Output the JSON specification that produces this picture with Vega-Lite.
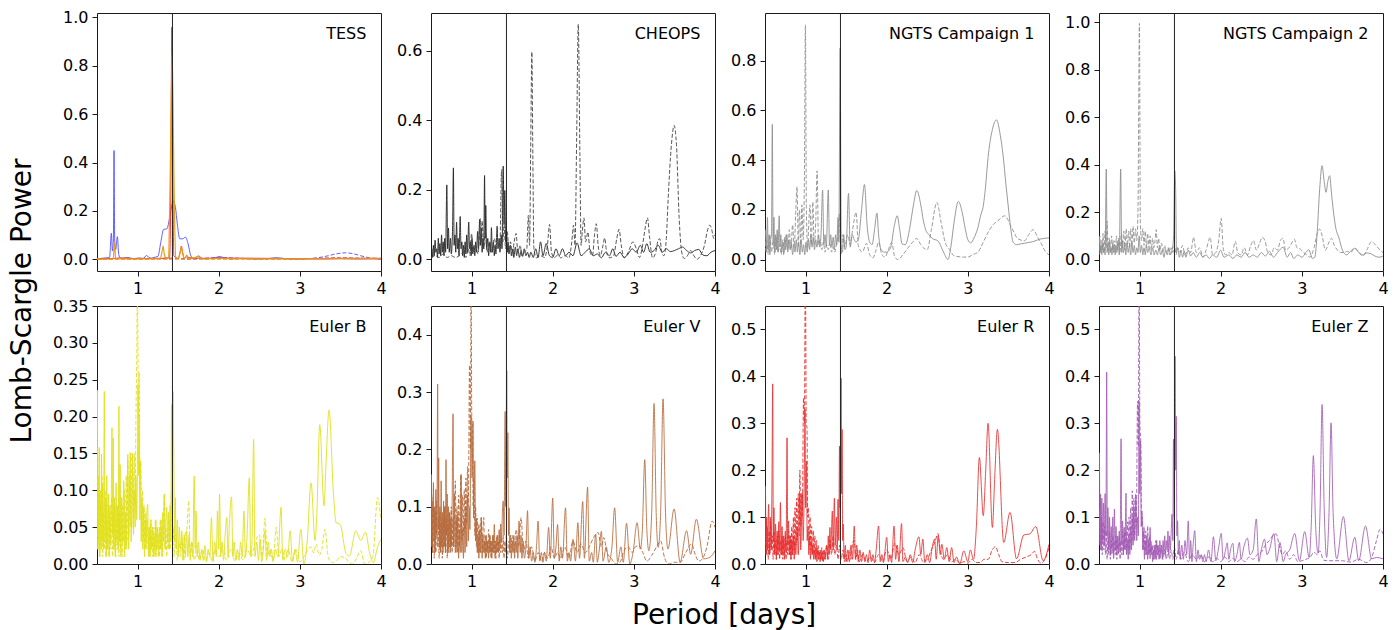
{
"$schema":"https://vega.github.io/schema/vega-lite/v6.json",
"padding":{"left":0,"top":8,"right":5,"bottom":0},
"config":{"font":"DejaVu Sans","view":{"stroke":"#1a1a1a","strokeWidth":1},"axis":{"grid":false,"domain":false,"ticks":true,"tickColor":"#1a1a1a","tickSize":5,"tickWidth":1,"labelFont":"DejaVu Sans","labelFontSize":16,"labelColor":"#000","labelPadding":4,"labelOverlap":false},"text":{"font":"DejaVu Sans","color":"#000"}},
"title":{"text":"Period [days]","orient":"bottom","anchor":"start","frame":"group","dx":632,"offset":12,"fontSize":28,"fontWeight":"normal","font":"DejaVu Sans","color":"#000"},
"datasets":{
"tA1":[{"x":0.5,"y":0.003},{"x":0.55,"y":0.004},{"x":0.6,"y":0.006},{"x":0.655,"y":0.008},{"x":0.677,"y":0.108},{"x":0.69,"y":0.035},{"x":0.702,"y":0.08},{"x":0.71,"y":0.45},{"x":0.718,"y":0.08},{"x":0.73,"y":0.04},{"x":0.751,"y":0.094},{"x":0.768,"y":0.02},{"x":0.785,"y":0.006},{"x":0.82,"y":0.004},{"x":0.88,"y":0.008},{"x":0.95,"y":0.003},{"x":1.02,"y":0.006},{"x":1.07,"y":0.004},{"x":1.11,"y":0.016},{"x":1.14,"y":0.008},{"x":1.17,"y":0.005},{"x":1.2,"y":0.008},{"x":1.25,"y":0.012},{"x":1.29,"y":0.078},{"x":1.32,"y":0.124},{"x":1.36,"y":0.126},{"x":1.4,"y":0.18},{"x":1.438,"y":0.242},{"x":1.467,"y":0.214},{"x":1.49,"y":0.146},{"x":1.52,"y":0.085},{"x":1.555,"y":0.085},{"x":1.59,"y":0.092},{"x":1.623,"y":0.064},{"x":1.656,"y":0.015},{"x":1.69,"y":0.002},{"x":1.75,"y":0.005},{"x":1.85,"y":0.003},{"x":1.95,"y":0.006},{"x":2.01,"y":0.012},{"x":2.07,"y":0.006},{"x":2.15,"y":0.002},{"x":2.3,"y":0.004},{"x":2.45,"y":0.002},{"x":2.6,"y":0.003},{"x":2.71,"y":0.007},{"x":2.8,"y":0.004},{"x":2.95,"y":0.002},{"x":3.1,"y":0.003},{"x":3.3,"y":0.002},{"x":3.5,"y":0.003},{"x":3.7,"y":0.002},{"x":3.9,"y":0.003},{"x":4.0,"y":0.002}],
"tA2":[{"x":0.5,"y":0.002},{"x":0.8,"y":0.004},{"x":1.0,"y":0.002},{"x":1.42,"y":0.005},{"x":1.6,"y":0.002},{"x":2.0,"y":0.007},{"x":2.5,"y":0.002},{"x":3.0,"y":0.002},{"x":3.2,"y":0.006},{"x":3.35,"y":0.015},{"x":3.45,"y":0.023},{"x":3.56,"y":0.027},{"x":3.65,"y":0.024},{"x":3.75,"y":0.015},{"x":3.85,"y":0.007},{"x":3.95,"y":0.003},{"x":4.0,"y":0.002}],
"tB1":[{"x":0.5,"y":0.002},{"x":0.7,"y":0.004},{"x":0.85,"y":0.006},{"x":0.9,"y":0.003},{"x":1.1,"y":0.004},{"x":1.3,"y":0.004},{"x":1.395,"y":0.008},{"x":1.41,"y":0.3},{"x":1.422,"y":0.96},{"x":1.434,"y":0.4},{"x":1.447,"y":0.015},{"x":1.5,"y":0.004},{"x":1.525,"y":0.03},{"x":1.54,"y":0.055},{"x":1.555,"y":0.03},{"x":1.575,"y":0.004},{"x":1.6,"y":0.01},{"x":1.7,"y":0.004},{"x":1.75,"y":0.014},{"x":1.8,"y":0.004},{"x":2.0,"y":0.006},{"x":2.35,"y":0.005},{"x":2.7,"y":0.004},{"x":3.0,"y":0.002},{"x":3.5,"y":0.003},{"x":4.0,"y":0.002}],
"tB2":[{"x":0.5,"y":0.001},{"x":1.0,"y":0.002},{"x":2.0,"y":0.002},{"x":3.0,"y":0.003},{"x":3.5,"y":0.007},{"x":3.8,"y":0.005},{"x":4.0,"y":0.004}],
"tC1":[{"x":0.5,"y":0.001},{"x":0.7,"y":0.002},{"x":0.716,"y":0.07},{"x":0.73,"y":0.003},{"x":1.0,"y":0.002},{"x":1.28,"y":0.003},{"x":1.3,"y":0.03},{"x":1.315,"y":0.055},{"x":1.33,"y":0.02},{"x":1.36,"y":0.003},{"x":1.38,"y":0.005},{"x":1.4,"y":0.3},{"x":1.426,"y":0.857},{"x":1.45,"y":0.3},{"x":1.47,"y":0.005},{"x":1.5,"y":0.004},{"x":1.525,"y":0.03},{"x":1.54,"y":0.05},{"x":1.555,"y":0.025},{"x":1.58,"y":0.004},{"x":1.607,"y":0.018},{"x":1.63,"y":0.003},{"x":1.75,"y":0.01},{"x":1.8,"y":0.002},{"x":2.0,"y":0.004},{"x":2.5,"y":0.002},{"x":3.0,"y":0.002},{"x":3.5,"y":0.004},{"x":4.0,"y":0.004}],
"tC2":[{"x":0.5,"y":0.002},{"x":1.5,"y":0.002},{"x":2.5,"y":0.003},{"x":3.5,"y":0.004},{"x":4.0,"y":0.005}],
"ch1":[{"x":0.5,"y":0.01},{"x":0.51,"y":0.03},{"x":0.52,"y":0.005},{"x":0.53,"y":0.04},{"x":0.54,"y":0.01},{"x":0.55,"y":0.055},{"x":0.56,"y":0.02},{"x":0.57,"y":0.03},{"x":0.58,"y":0.005},{"x":0.59,"y":0.06},{"x":0.6,"y":0.015},{"x":0.61,"y":0.045},{"x":0.62,"y":0.01},{"x":0.63,"y":0.07},{"x":0.64,"y":0.02},{"x":0.65,"y":0.05},{"x":0.66,"y":0.01},{"x":0.67,"y":0.06},{"x":0.68,"y":0.02},{"x":0.695,"y":0.214},{"x":0.705,"y":0.03},{"x":0.715,"y":0.09},{"x":0.725,"y":0.02},{"x":0.74,"y":0.06},{"x":0.75,"y":0.015},{"x":0.765,"y":0.08},{"x":0.776,"y":0.263},{"x":0.785,"y":0.04},{"x":0.795,"y":0.07},{"x":0.805,"y":0.02},{"x":0.815,"y":0.107},{"x":0.825,"y":0.03},{"x":0.835,"y":0.06},{"x":0.845,"y":0.01},{"x":0.86,"y":0.123},{"x":0.87,"y":0.03},{"x":0.88,"y":0.05},{"x":0.89,"y":0.01},{"x":0.9,"y":0.04},{"x":0.91,"y":0.005},{"x":0.92,"y":0.05},{"x":0.93,"y":0.015},{"x":0.94,"y":0.07},{"x":0.95,"y":0.02},{"x":0.965,"y":0.107},{"x":0.975,"y":0.03},{"x":0.985,"y":0.05},{"x":0.995,"y":0.01},{"x":1.005,"y":0.06},{"x":1.015,"y":0.015},{"x":1.03,"y":0.04},{"x":1.04,"y":0.01},{"x":1.05,"y":0.05},{"x":1.06,"y":0.02},{"x":1.075,"y":0.08},{"x":1.085,"y":0.03},{"x":1.1,"y":0.115},{"x":1.11,"y":0.04},{"x":1.12,"y":0.09},{"x":1.13,"y":0.02},{"x":1.14,"y":0.06},{"x":1.15,"y":0.03},{"x":1.16,"y":0.241},{"x":1.168,"y":0.06},{"x":1.175,"y":0.155},{"x":1.185,"y":0.03},{"x":1.2,"y":0.06},{"x":1.21,"y":0.01},{"x":1.225,"y":0.05},{"x":1.235,"y":0.02},{"x":1.245,"y":0.091},{"x":1.255,"y":0.02},{"x":1.27,"y":0.05},{"x":1.28,"y":0.01},{"x":1.29,"y":0.04},{"x":1.3,"y":0.015},{"x":1.315,"y":0.095},{"x":1.325,"y":0.03},{"x":1.34,"y":0.06},{"x":1.35,"y":0.02},{"x":1.365,"y":0.07},{"x":1.375,"y":0.03},{"x":1.39,"y":0.268},{"x":1.4,"y":0.1},{"x":1.41,"y":0.198},{"x":1.42,"y":0.05},{"x":1.43,"y":0.08},{"x":1.44,"y":0.02},{"x":1.45,"y":0.05},{"x":1.46,"y":0.015},{"x":1.48,"y":0.04},{"x":1.49,"y":0.01},{"x":1.51,"y":0.03},{"x":1.52,"y":0.005},{"x":1.54,"y":0.035},{"x":1.555,"y":0.01},{"x":1.57,"y":0.03},{"x":1.59,"y":0.005},{"x":1.61,"y":0.025},{"x":1.63,"y":0.008},{"x":1.65,"y":0.03},{"x":1.67,"y":0.01},{"x":1.69,"y":0.02},{"x":1.71,"y":0.005},{"x":1.73,"y":0.02},{"x":1.76,"y":0.005},{"x":1.79,"y":0.03},{"x":1.82,"y":0.005},{"x":1.85,"y":0.05},{"x":1.88,"y":0.01},{"x":1.92,"y":0.045},{"x":1.96,"y":0.01},{"x":2.0,"y":0.005},{"x":2.04,"y":0.03},{"x":2.08,"y":0.01},{"x":2.12,"y":0.03},{"x":2.16,"y":0.01},{"x":2.2,"y":0.02},{"x":2.25,"y":0.01},{"x":2.3,"y":0.047},{"x":2.35,"y":0.01},{"x":2.4,"y":0.02},{"x":2.45,"y":0.03},{"x":2.5,"y":0.01},{"x":2.55,"y":0.015},{"x":2.6,"y":0.004},{"x":2.65,"y":0.02},{"x":2.7,"y":0.01},{"x":2.74,"y":0.03},{"x":2.78,"y":0.008},{"x":2.83,"y":0.02},{"x":2.88,"y":0.005},{"x":2.93,"y":0.015},{"x":2.98,"y":0.03},{"x":3.03,"y":0.02},{"x":3.08,"y":0.04},{"x":3.12,"y":0.02},{"x":3.16,"y":0.045},{"x":3.2,"y":0.02},{"x":3.25,"y":0.025},{"x":3.3,"y":0.04},{"x":3.35,"y":0.02},{"x":3.4,"y":0.03},{"x":3.45,"y":0.022},{"x":3.55,"y":0.03},{"x":3.6,"y":0.035},{"x":3.65,"y":0.025},{"x":3.7,"y":0.018},{"x":3.75,"y":0.025},{"x":3.8,"y":0.028},{"x":3.85,"y":0.012},{"x":3.9,"y":0.01},{"x":3.95,"y":0.02},{"x":4.0,"y":0.025}],
"ch2":[{"x":0.5,"y":0.005},{"x":0.55,"y":0.01},{"x":0.6,"y":0.005},{"x":0.65,"y":0.015},{"x":0.7,"y":0.005},{"x":0.75,"y":0.01},{"x":0.8,"y":0.005},{"x":0.85,"y":0.01},{"x":0.9,"y":0.02},{"x":0.93,"y":0.005},{"x":0.96,"y":0.03},{"x":0.98,"y":0.01},{"x":1.0,"y":0.074},{"x":1.02,"y":0.02},{"x":1.05,"y":0.04},{"x":1.08,"y":0.015},{"x":1.11,"y":0.117},{"x":1.12,"y":0.05},{"x":1.13,"y":0.11},{"x":1.15,"y":0.03},{"x":1.17,"y":0.08},{"x":1.19,"y":0.02},{"x":1.22,"y":0.05},{"x":1.25,"y":0.02},{"x":1.28,"y":0.06},{"x":1.31,"y":0.03},{"x":1.35,"y":0.05},{"x":1.37,"y":0.258},{"x":1.385,"y":0.05},{"x":1.4,"y":0.1},{"x":1.42,"y":0.03},{"x":1.44,"y":0.08},{"x":1.46,"y":0.02},{"x":1.48,"y":0.05},{"x":1.5,"y":0.01},{"x":1.525,"y":0.05},{"x":1.549,"y":0.074},{"x":1.57,"y":0.02},{"x":1.6,"y":0.04},{"x":1.62,"y":0.01},{"x":1.65,"y":0.02},{"x":1.68,"y":0.03},{"x":1.7,"y":0.126},{"x":1.715,"y":0.04},{"x":1.73,"y":0.35},{"x":1.743,"y":0.597},{"x":1.755,"y":0.3},{"x":1.768,"y":0.03},{"x":1.8,"y":0.004},{"x":1.85,"y":0.01},{"x":1.9,"y":0.005},{"x":1.935,"y":0.04},{"x":1.961,"y":0.1},{"x":1.985,"y":0.02},{"x":2.02,"y":0.004},{"x":2.06,"y":0.012},{"x":2.1,"y":0.004},{"x":2.15,"y":0.01},{"x":2.2,"y":0.004},{"x":2.235,"y":0.05},{"x":2.257,"y":0.098},{"x":2.275,"y":0.04},{"x":2.295,"y":0.35},{"x":2.315,"y":0.677},{"x":2.335,"y":0.3},{"x":2.35,"y":0.04},{"x":2.365,"y":0.08},{"x":2.385,"y":0.119},{"x":2.405,"y":0.05},{"x":2.434,"y":0.078},{"x":2.46,"y":0.02},{"x":2.49,"y":0.01},{"x":2.515,"y":0.07},{"x":2.537,"y":0.102},{"x":2.56,"y":0.04},{"x":2.585,"y":0.01},{"x":2.62,"y":0.04},{"x":2.64,"y":0.061},{"x":2.665,"y":0.02},{"x":2.7,"y":0.004},{"x":2.75,"y":0.01},{"x":2.79,"y":0.06},{"x":2.817,"y":0.086},{"x":2.845,"y":0.04},{"x":2.88,"y":0.004},{"x":2.93,"y":0.02},{"x":2.99,"y":0.05},{"x":3.03,"y":0.03},{"x":3.07,"y":0.005},{"x":3.1,"y":0.03},{"x":3.14,"y":0.09},{"x":3.167,"y":0.119},{"x":3.195,"y":0.06},{"x":3.23,"y":0.004},{"x":3.27,"y":0.02},{"x":3.3,"y":0.055},{"x":3.319,"y":0.059},{"x":3.345,"y":0.02},{"x":3.37,"y":0.01},{"x":3.4,"y":0.06},{"x":3.42,"y":0.16},{"x":3.463,"y":0.33},{"x":3.496,"y":0.385},{"x":3.525,"y":0.33},{"x":3.558,"y":0.12},{"x":3.59,"y":0.02},{"x":3.62,"y":0.002},{"x":3.66,"y":0.01},{"x":3.7,"y":0.025},{"x":3.74,"y":0.01},{"x":3.78,"y":0.0},{"x":3.82,"y":0.01},{"x":3.87,"y":0.04},{"x":3.91,"y":0.085},{"x":3.936,"y":0.098},{"x":3.96,"y":0.085},{"x":3.985,"y":0.06},{"x":4.0,"y":0.07}],
"n11":[{"x":0.5,"y":0.05},{"x":0.51,"y":0.12},{"x":0.52,"y":0.03},{"x":0.53,"y":0.17},{"x":0.54,"y":0.04},{"x":0.55,"y":0.1},{"x":0.56,"y":0.02},{"x":0.57,"y":0.08},{"x":0.58,"y":0.1},{"x":0.59,"y":0.544},{"x":0.6,"y":0.06},{"x":0.61,"y":0.17},{"x":0.62,"y":0.03},{"x":0.63,"y":0.1},{"x":0.64,"y":0.04},{"x":0.65,"y":0.12},{"x":0.66,"y":0.03},{"x":0.675,"y":0.176},{"x":0.685,"y":0.05},{"x":0.695,"y":0.1},{"x":0.705,"y":0.03},{"x":0.72,"y":0.07},{"x":0.73,"y":0.02},{"x":0.745,"y":0.09},{"x":0.755,"y":0.04},{"x":0.77,"y":0.1},{"x":0.78,"y":0.03},{"x":0.795,"y":0.08},{"x":0.81,"y":0.04},{"x":0.825,"y":0.07},{"x":0.84,"y":0.02},{"x":0.855,"y":0.06},{"x":0.87,"y":0.03},{"x":0.885,"y":0.08},{"x":0.9,"y":0.03},{"x":0.915,"y":0.07},{"x":0.93,"y":0.02},{"x":0.945,"y":0.08},{"x":0.96,"y":0.03},{"x":0.975,"y":0.06},{"x":0.99,"y":0.02},{"x":1.005,"y":0.07},{"x":1.02,"y":0.03},{"x":1.035,"y":0.08},{"x":1.05,"y":0.04},{"x":1.065,"y":0.1},{"x":1.08,"y":0.05},{"x":1.095,"y":0.09},{"x":1.11,"y":0.04},{"x":1.125,"y":0.08},{"x":1.14,"y":0.05},{"x":1.16,"y":0.1},{"x":1.175,"y":0.05},{"x":1.19,"y":0.1},{"x":1.21,"y":0.28},{"x":1.225,"y":0.06},{"x":1.24,"y":0.1},{"x":1.255,"y":0.05},{"x":1.28,"y":0.28},{"x":1.295,"y":0.06},{"x":1.31,"y":0.1},{"x":1.325,"y":0.05},{"x":1.34,"y":0.09},{"x":1.355,"y":0.04},{"x":1.37,"y":0.1},{"x":1.385,"y":0.06},{"x":1.4,"y":0.17},{"x":1.41,"y":0.07},{"x":1.426,"y":0.851},{"x":1.44,"y":0.05},{"x":1.455,"y":0.03},{"x":1.47,"y":0.1},{"x":1.485,"y":0.04},{"x":1.5,"y":0.05},{"x":1.529,"y":0.266},{"x":1.55,"y":0.05},{"x":1.575,"y":0.1},{"x":1.6,"y":0.08},{"x":1.62,"y":0.07},{"x":1.65,"y":0.08},{"x":1.69,"y":0.2},{"x":1.726,"y":0.302},{"x":1.76,"y":0.13},{"x":1.79,"y":0.07},{"x":1.82,"y":0.06},{"x":1.85,"y":0.12},{"x":1.879,"y":0.187},{"x":1.9,"y":0.1},{"x":1.93,"y":0.04},{"x":1.97,"y":0.03},{"x":2.0,"y":0.03},{"x":2.05,"y":0.05},{"x":2.09,"y":0.13},{"x":2.13,"y":0.176},{"x":2.16,"y":0.12},{"x":2.19,"y":0.063},{"x":2.23,"y":0.06},{"x":2.28,"y":0.12},{"x":2.33,"y":0.22},{"x":2.37,"y":0.278},{"x":2.42,"y":0.22},{"x":2.45,"y":0.16},{"x":2.48,"y":0.12},{"x":2.52,"y":0.1},{"x":2.56,"y":0.085},{"x":2.632,"y":0.075},{"x":2.7,"y":0.03},{"x":2.755,"y":0.0},{"x":2.79,"y":0.05},{"x":2.83,"y":0.15},{"x":2.883,"y":0.234},{"x":2.93,"y":0.19},{"x":2.97,"y":0.12},{"x":3.0,"y":0.08},{"x":3.035,"y":0.067},{"x":3.08,"y":0.09},{"x":3.125,"y":0.13},{"x":3.16,"y":0.18},{"x":3.187,"y":0.21},{"x":3.22,"y":0.3},{"x":3.249,"y":0.41},{"x":3.3,"y":0.52},{"x":3.352,"y":0.562},{"x":3.4,"y":0.5},{"x":3.434,"y":0.42},{"x":3.47,"y":0.3},{"x":3.496,"y":0.22},{"x":3.53,"y":0.12},{"x":3.558,"y":0.07},{"x":3.6,"y":0.06},{"x":3.65,"y":0.063},{"x":3.7,"y":0.066},{"x":3.8,"y":0.072},{"x":3.9,"y":0.083},{"x":4.0,"y":0.087}],
"n12":[{"x":0.5,"y":0.03},{"x":0.52,"y":0.08},{"x":0.54,"y":0.02},{"x":0.56,"y":0.1},{"x":0.58,"y":0.03},{"x":0.6,"y":0.07},{"x":0.62,"y":0.02},{"x":0.64,"y":0.09},{"x":0.66,"y":0.03},{"x":0.68,"y":0.06},{"x":0.7,"y":0.02},{"x":0.72,"y":0.08},{"x":0.74,"y":0.03},{"x":0.76,"y":0.1},{"x":0.78,"y":0.04},{"x":0.8,"y":0.12},{"x":0.82,"y":0.04},{"x":0.84,"y":0.14},{"x":0.86,"y":0.05},{"x":0.88,"y":0.2},{"x":0.895,"y":0.293},{"x":0.91,"y":0.05},{"x":0.925,"y":0.2},{"x":0.94,"y":0.06},{"x":0.955,"y":0.22},{"x":0.97,"y":0.08},{"x":0.985,"y":0.3},{"x":0.998,"y":0.945},{"x":1.01,"y":0.2},{"x":1.025,"y":0.05},{"x":1.04,"y":0.15},{"x":1.055,"y":0.22},{"x":1.07,"y":0.06},{"x":1.09,"y":0.232},{"x":1.105,"y":0.06},{"x":1.125,"y":0.15},{"x":1.142,"y":0.357},{"x":1.16,"y":0.06},{"x":1.18,"y":0.08},{"x":1.2,"y":0.04},{"x":1.22,"y":0.07},{"x":1.24,"y":0.03},{"x":1.26,"y":0.06},{"x":1.28,"y":0.04},{"x":1.3,"y":0.07},{"x":1.32,"y":0.03},{"x":1.34,"y":0.05},{"x":1.36,"y":0.03},{"x":1.38,"y":0.06},{"x":1.4,"y":0.1},{"x":1.415,"y":0.183},{"x":1.43,"y":0.07},{"x":1.44,"y":0.023},{"x":1.46,"y":0.1},{"x":1.48,"y":0.05},{"x":1.52,"y":0.1},{"x":1.55,"y":0.06},{"x":1.58,"y":0.12},{"x":1.623,"y":0.19},{"x":1.65,"y":0.056},{"x":1.7,"y":0.03},{"x":1.75,"y":0.065},{"x":1.79,"y":0.02},{"x":1.83,"y":0.007},{"x":1.87,"y":0.04},{"x":1.9,"y":0.07},{"x":1.94,"y":0.02},{"x":1.98,"y":0.01},{"x":2.02,"y":0.04},{"x":2.06,"y":0.068},{"x":2.1,"y":0.01},{"x":2.14,"y":0.0},{"x":2.2,"y":0.02},{"x":2.27,"y":0.05},{"x":2.32,"y":0.07},{"x":2.37,"y":0.085},{"x":2.42,"y":0.06},{"x":2.46,"y":0.045},{"x":2.5,"y":0.04},{"x":2.55,"y":0.12},{"x":2.619,"y":0.23},{"x":2.67,"y":0.15},{"x":2.72,"y":0.07},{"x":2.776,"y":0.04},{"x":2.83,"y":0.015},{"x":2.88,"y":0.012},{"x":2.95,"y":0.01},{"x":3.0,"y":0.01},{"x":3.06,"y":0.02},{"x":3.125,"y":0.03},{"x":3.19,"y":0.07},{"x":3.25,"y":0.11},{"x":3.31,"y":0.14},{"x":3.37,"y":0.156},{"x":3.455,"y":0.176},{"x":3.537,"y":0.13},{"x":3.62,"y":0.083},{"x":3.7,"y":0.076},{"x":3.75,"y":0.1},{"x":3.805,"y":0.12},{"x":3.86,"y":0.09},{"x":3.907,"y":0.063},{"x":3.95,"y":0.035},{"x":4.0,"y":0.019}],
"n21":[{"x":0.5,"y":0.02},{"x":0.505,"y":0.094},{"x":0.515,"y":0.03},{"x":0.525,"y":0.06},{"x":0.535,"y":0.02},{"x":0.545,"y":0.07},{"x":0.555,"y":0.03},{"x":0.565,"y":0.05},{"x":0.575,"y":0.02},{"x":0.59,"y":0.382},{"x":0.6,"y":0.03},{"x":0.61,"y":0.06},{"x":0.62,"y":0.02},{"x":0.63,"y":0.08},{"x":0.64,"y":0.03},{"x":0.65,"y":0.05},{"x":0.66,"y":0.02},{"x":0.67,"y":0.07},{"x":0.68,"y":0.03},{"x":0.69,"y":0.05},{"x":0.7,"y":0.02},{"x":0.71,"y":0.06},{"x":0.72,"y":0.03},{"x":0.735,"y":0.08},{"x":0.75,"y":0.02},{"x":0.767,"y":0.382},{"x":0.78,"y":0.03},{"x":0.79,"y":0.08},{"x":0.8,"y":0.03},{"x":0.815,"y":0.06},{"x":0.83,"y":0.02},{"x":0.845,"y":0.07},{"x":0.86,"y":0.03},{"x":0.875,"y":0.06},{"x":0.89,"y":0.02},{"x":0.905,"y":0.07},{"x":0.92,"y":0.03},{"x":0.935,"y":0.06},{"x":0.95,"y":0.02},{"x":0.965,"y":0.05},{"x":0.98,"y":0.03},{"x":0.995,"y":0.1},{"x":1.01,"y":0.03},{"x":1.025,"y":0.06},{"x":1.04,"y":0.02},{"x":1.055,"y":0.05},{"x":1.07,"y":0.02},{"x":1.085,"y":0.06},{"x":1.1,"y":0.03},{"x":1.12,"y":0.05},{"x":1.14,"y":0.02},{"x":1.16,"y":0.05},{"x":1.18,"y":0.02},{"x":1.2,"y":0.04},{"x":1.22,"y":0.02},{"x":1.24,"y":0.05},{"x":1.26,"y":0.02},{"x":1.28,"y":0.04},{"x":1.3,"y":0.01},{"x":1.32,"y":0.04},{"x":1.34,"y":0.02},{"x":1.36,"y":0.05},{"x":1.38,"y":0.02},{"x":1.4,"y":0.04},{"x":1.42,"y":0.1},{"x":1.434,"y":0.375},{"x":1.445,"y":0.29},{"x":1.455,"y":0.03},{"x":1.47,"y":0.05},{"x":1.49,"y":0.01},{"x":1.51,"y":0.04},{"x":1.53,"y":0.01},{"x":1.55,"y":0.035},{"x":1.57,"y":0.01},{"x":1.6,"y":0.04},{"x":1.63,"y":0.015},{"x":1.66,"y":0.03},{"x":1.7,"y":0.01},{"x":1.74,"y":0.03},{"x":1.78,"y":0.01},{"x":1.82,"y":0.02},{"x":1.86,"y":0.005},{"x":1.9,"y":0.02},{"x":1.95,"y":0.01},{"x":2.0,"y":0.04},{"x":2.04,"y":0.01},{"x":2.1,"y":0.02},{"x":2.15,"y":0.005},{"x":2.2,"y":0.02},{"x":2.25,"y":0.01},{"x":2.3,"y":0.03},{"x":2.35,"y":0.01},{"x":2.4,"y":0.02},{"x":2.45,"y":0.01},{"x":2.5,"y":0.03},{"x":2.55,"y":0.015},{"x":2.6,"y":0.035},{"x":2.65,"y":0.01},{"x":2.7,"y":0.03},{"x":2.77,"y":0.052},{"x":2.82,"y":0.01},{"x":2.86,"y":0.03},{"x":2.9,"y":0.005},{"x":2.95,"y":0.02},{"x":3.0,"y":0.01},{"x":3.05,"y":0.03},{"x":3.085,"y":0.042},{"x":3.13,"y":0.005},{"x":3.16,"y":0.01},{"x":3.19,"y":0.12},{"x":3.22,"y":0.3},{"x":3.249,"y":0.396},{"x":3.275,"y":0.33},{"x":3.298,"y":0.284},{"x":3.32,"y":0.33},{"x":3.343,"y":0.354},{"x":3.365,"y":0.28},{"x":3.39,"y":0.2},{"x":3.42,"y":0.13},{"x":3.455,"y":0.094},{"x":3.5,"y":0.04},{"x":3.55,"y":0.02},{"x":3.6,"y":0.035},{"x":3.65,"y":0.048},{"x":3.7,"y":0.03},{"x":3.75,"y":0.02},{"x":3.8,"y":0.028},{"x":3.85,"y":0.025},{"x":3.9,"y":0.015},{"x":3.95,"y":0.01},{"x":4.0,"y":0.015}],
"n22":[{"x":0.5,"y":0.04},{"x":0.51,"y":0.1},{"x":0.52,"y":0.03},{"x":0.53,"y":0.08},{"x":0.54,"y":0.04},{"x":0.55,"y":0.11},{"x":0.56,"y":0.03},{"x":0.575,"y":0.12},{"x":0.59,"y":0.05},{"x":0.6,"y":0.162},{"x":0.61,"y":0.04},{"x":0.625,"y":0.09},{"x":0.64,"y":0.03},{"x":0.655,"y":0.1},{"x":0.67,"y":0.04},{"x":0.685,"y":0.08},{"x":0.7,"y":0.03},{"x":0.715,"y":0.1},{"x":0.73,"y":0.04},{"x":0.745,"y":0.09},{"x":0.76,"y":0.03},{"x":0.775,"y":0.11},{"x":0.79,"y":0.05},{"x":0.805,"y":0.12},{"x":0.82,"y":0.04},{"x":0.835,"y":0.13},{"x":0.85,"y":0.06},{"x":0.865,"y":0.12},{"x":0.88,"y":0.05},{"x":0.89,"y":0.13},{"x":0.905,"y":0.06},{"x":0.92,"y":0.14},{"x":0.935,"y":0.07},{"x":0.95,"y":0.13},{"x":0.965,"y":0.08},{"x":0.98,"y":0.2},{"x":0.998,"y":0.996},{"x":1.01,"y":0.15},{"x":1.025,"y":0.08},{"x":1.04,"y":0.13},{"x":1.055,"y":0.06},{"x":1.07,"y":0.12},{"x":1.085,"y":0.05},{"x":1.1,"y":0.11},{"x":1.115,"y":0.05},{"x":1.13,"y":0.1},{"x":1.145,"y":0.04},{"x":1.16,"y":0.09},{"x":1.175,"y":0.05},{"x":1.19,"y":0.08},{"x":1.205,"y":0.126},{"x":1.22,"y":0.05},{"x":1.235,"y":0.09},{"x":1.25,"y":0.04},{"x":1.27,"y":0.07},{"x":1.29,"y":0.03},{"x":1.31,"y":0.06},{"x":1.33,"y":0.03},{"x":1.35,"y":0.05},{"x":1.37,"y":0.02},{"x":1.39,"y":0.05},{"x":1.41,"y":0.03},{"x":1.43,"y":0.06},{"x":1.45,"y":0.02},{"x":1.47,"y":0.05},{"x":1.5,"y":0.03},{"x":1.53,"y":0.06},{"x":1.56,"y":0.02},{"x":1.6,"y":0.05},{"x":1.63,"y":0.03},{"x":1.665,"y":0.094},{"x":1.7,"y":0.03},{"x":1.74,"y":0.05},{"x":1.78,"y":0.01},{"x":1.82,"y":0.04},{"x":1.87,"y":0.094},{"x":1.9,"y":0.02},{"x":1.94,"y":0.03},{"x":1.975,"y":0.08},{"x":2.006,"y":0.174},{"x":2.03,"y":0.05},{"x":2.06,"y":0.02},{"x":2.1,"y":0.03},{"x":2.14,"y":0.02},{"x":2.179,"y":0.077},{"x":2.21,"y":0.03},{"x":2.25,"y":0.02},{"x":2.29,"y":0.05},{"x":2.33,"y":0.02},{"x":2.37,"y":0.06},{"x":2.405,"y":0.08},{"x":2.44,"y":0.04},{"x":2.48,"y":0.07},{"x":2.512,"y":0.094},{"x":2.545,"y":0.08},{"x":2.58,"y":0.03},{"x":2.62,"y":0.02},{"x":2.66,"y":0.05},{"x":2.7,"y":0.04},{"x":2.735,"y":0.08},{"x":2.767,"y":0.09},{"x":2.8,"y":0.04},{"x":2.84,"y":0.05},{"x":2.875,"y":0.07},{"x":2.907,"y":0.086},{"x":2.94,"y":0.05},{"x":2.98,"y":0.045},{"x":3.02,"y":0.03},{"x":3.06,"y":0.02},{"x":3.1,"y":0.01},{"x":3.15,"y":0.05},{"x":3.19,"y":0.11},{"x":3.22,"y":0.129},{"x":3.25,"y":0.1},{"x":3.29,"y":0.04},{"x":3.33,"y":0.07},{"x":3.364,"y":0.09},{"x":3.4,"y":0.06},{"x":3.44,"y":0.04},{"x":3.48,"y":0.03},{"x":3.52,"y":0.03},{"x":3.56,"y":0.035},{"x":3.6,"y":0.03},{"x":3.65,"y":0.048},{"x":3.7,"y":0.035},{"x":3.75,"y":0.015},{"x":3.8,"y":0.04},{"x":3.858,"y":0.076},{"x":3.9,"y":0.065},{"x":3.95,"y":0.045},{"x":4.0,"y":0.03}],
"eb1":[{"x":0.5,"y":0.05},{"x":0.505,"y":0.236},{"x":0.51,"y":0.02},{"x":0.515,"y":0.12},{"x":0.52,"y":0.03},{"x":0.527,"y":0.158},{"x":0.535,"y":0.01},{"x":0.54,"y":0.1},{"x":0.55,"y":0.02},{"x":0.555,"y":0.149},{"x":0.565,"y":0.03},{"x":0.57,"y":0.11},{"x":0.58,"y":0.02},{"x":0.59,"y":0.234},{"x":0.598,"y":0.03},{"x":0.605,"y":0.09},{"x":0.615,"y":0.01},{"x":0.62,"y":0.12},{"x":0.63,"y":0.02},{"x":0.64,"y":0.095},{"x":0.65,"y":0.01},{"x":0.66,"y":0.08},{"x":0.67,"y":0.03},{"x":0.685,"y":0.185},{"x":0.692,"y":0.04},{"x":0.7,"y":0.171},{"x":0.708,"y":0.02},{"x":0.715,"y":0.09},{"x":0.725,"y":0.01},{"x":0.735,"y":0.11},{"x":0.745,"y":0.03},{"x":0.755,"y":0.08},{"x":0.762,"y":0.02},{"x":0.77,"y":0.214},{"x":0.778,"y":0.03},{"x":0.785,"y":0.135},{"x":0.795,"y":0.01},{"x":0.805,"y":0.09},{"x":0.815,"y":0.03},{"x":0.83,"y":0.113},{"x":0.84,"y":0.01},{"x":0.85,"y":0.07},{"x":0.86,"y":0.02},{"x":0.87,"y":0.08},{"x":0.88,"y":0.149},{"x":0.89,"y":0.02},{"x":0.9,"y":0.09},{"x":0.91,"y":0.151},{"x":0.92,"y":0.03},{"x":0.93,"y":0.08},{"x":0.94,"y":0.15},{"x":0.95,"y":0.04},{"x":0.96,"y":0.1},{"x":0.97,"y":0.05},{"x":0.98,"y":0.12},{"x":0.99,"y":0.06},{"x":1.0,"y":0.16},{"x":1.006,"y":0.243},{"x":1.012,"y":0.12},{"x":1.02,"y":0.203},{"x":1.028,"y":0.06},{"x":1.035,"y":0.14},{"x":1.045,"y":0.03},{"x":1.055,"y":0.09},{"x":1.065,"y":0.02},{"x":1.075,"y":0.077},{"x":1.085,"y":0.01},{"x":1.095,"y":0.06},{"x":1.105,"y":0.02},{"x":1.115,"y":0.07},{"x":1.125,"y":0.081},{"x":1.135,"y":0.01},{"x":1.145,"y":0.05},{"x":1.155,"y":0.01},{"x":1.165,"y":0.06},{"x":1.175,"y":0.02},{"x":1.185,"y":0.05},{"x":1.195,"y":0.01},{"x":1.205,"y":0.04},{"x":1.215,"y":0.01},{"x":1.225,"y":0.06},{"x":1.235,"y":0.02},{"x":1.245,"y":0.05},{"x":1.26,"y":0.01},{"x":1.27,"y":0.05},{"x":1.28,"y":0.02},{"x":1.29,"y":0.06},{"x":1.3,"y":0.01},{"x":1.31,"y":0.07},{"x":1.32,"y":0.03},{"x":1.33,"y":0.095},{"x":1.34,"y":0.02},{"x":1.35,"y":0.06},{"x":1.36,"y":0.077},{"x":1.37,"y":0.03},{"x":1.38,"y":0.07},{"x":1.39,"y":0.02},{"x":1.4,"y":0.08},{"x":1.41,"y":0.03},{"x":1.418,"y":0.216},{"x":1.428,"y":0.1},{"x":1.438,"y":0.234},{"x":1.447,"y":0.133},{"x":1.455,"y":0.03},{"x":1.465,"y":0.09},{"x":1.475,"y":0.02},{"x":1.49,"y":0.06},{"x":1.5,"y":0.01},{"x":1.515,"y":0.05},{"x":1.53,"y":0.02},{"x":1.545,"y":0.045},{"x":1.56,"y":0.005},{"x":1.575,"y":0.04},{"x":1.59,"y":0.01},{"x":1.605,"y":0.045},{"x":1.62,"y":0.01},{"x":1.635,"y":0.04},{"x":1.65,"y":0.005},{"x":1.665,"y":0.03},{"x":1.68,"y":0.01},{"x":1.698,"y":0.119},{"x":1.71,"y":0.02},{"x":1.72,"y":0.072},{"x":1.735,"y":0.01},{"x":1.75,"y":0.03},{"x":1.77,"y":0.005},{"x":1.79,"y":0.02},{"x":1.81,"y":0.005},{"x":1.83,"y":0.025},{"x":1.85,"y":0.003},{"x":1.87,"y":0.02},{"x":1.89,"y":0.01},{"x":1.91,"y":0.063},{"x":1.93,"y":0.003},{"x":1.95,"y":0.03},{"x":1.97,"y":0.01},{"x":1.985,"y":0.072},{"x":2.0,"y":0.02},{"x":2.01,"y":0.095},{"x":2.025,"y":0.01},{"x":2.04,"y":0.03},{"x":2.06,"y":0.005},{"x":2.08,"y":0.04},{"x":2.1,"y":0.063},{"x":2.115,"y":0.01},{"x":2.13,"y":0.05},{"x":2.158,"y":0.091},{"x":2.175,"y":0.01},{"x":2.19,"y":0.03},{"x":2.21,"y":0.005},{"x":2.23,"y":0.02},{"x":2.25,"y":0.005},{"x":2.27,"y":0.03},{"x":2.29,"y":0.01},{"x":2.31,"y":0.072},{"x":2.33,"y":0.01},{"x":2.35,"y":0.04},{"x":2.377,"y":0.117},{"x":2.395,"y":0.01},{"x":2.41,"y":0.03},{"x":2.43,"y":0.169},{"x":2.447,"y":0.01},{"x":2.47,"y":0.03},{"x":2.49,"y":0.005},{"x":2.51,"y":0.034},{"x":2.53,"y":0.003},{"x":2.55,"y":0.02},{"x":2.57,"y":0.045},{"x":2.59,"y":0.005},{"x":2.61,"y":0.03},{"x":2.63,"y":0.01},{"x":2.65,"y":0.02},{"x":2.67,"y":0.003},{"x":2.7,"y":0.02},{"x":2.73,"y":0.01},{"x":2.768,"y":0.077},{"x":2.79,"y":0.005},{"x":2.82,"y":0.02},{"x":2.85,"y":0.01},{"x":2.88,"y":0.045},{"x":2.91,"y":0.003},{"x":2.94,"y":0.02},{"x":2.97,"y":0.003},{"x":3.012,"y":0.047},{"x":3.05,"y":0.0},{"x":3.09,"y":0.03},{"x":3.138,"y":0.11},{"x":3.187,"y":0.032},{"x":3.21,"y":0.07},{"x":3.245,"y":0.189},{"x":3.298,"y":0.079},{"x":3.32,"y":0.13},{"x":3.36,"y":0.209},{"x":3.414,"y":0.095},{"x":3.447,"y":0.056},{"x":3.496,"y":0.054},{"x":3.57,"y":0.014},{"x":3.611,"y":0.011},{"x":3.69,"y":0.045},{"x":3.751,"y":0.032},{"x":3.809,"y":0.043},{"x":3.86,"y":0.015},{"x":3.907,"y":0.002},{"x":3.957,"y":0.023},{"x":4.0,"y":0.034}],
"eb2":[{"x":0.5,"y":0.03},{"x":0.505,"y":0.158},{"x":0.512,"y":0.02},{"x":0.52,"y":0.1},{"x":0.53,"y":0.01},{"x":0.54,"y":0.08},{"x":0.55,"y":0.02},{"x":0.56,"y":0.12},{"x":0.57,"y":0.01},{"x":0.58,"y":0.07},{"x":0.59,"y":0.02},{"x":0.6,"y":0.1},{"x":0.61,"y":0.01},{"x":0.62,"y":0.06},{"x":0.63,"y":0.02},{"x":0.64,"y":0.08},{"x":0.65,"y":0.01},{"x":0.66,"y":0.07},{"x":0.67,"y":0.02},{"x":0.68,"y":0.09},{"x":0.69,"y":0.01},{"x":0.7,"y":0.07},{"x":0.71,"y":0.02},{"x":0.72,"y":0.08},{"x":0.73,"y":0.01},{"x":0.74,"y":0.06},{"x":0.75,"y":0.02},{"x":0.76,"y":0.08},{"x":0.77,"y":0.01},{"x":0.78,"y":0.07},{"x":0.79,"y":0.02},{"x":0.8,"y":0.09},{"x":0.81,"y":0.01},{"x":0.82,"y":0.08},{"x":0.83,"y":0.03},{"x":0.84,"y":0.1},{"x":0.85,"y":0.02},{"x":0.86,"y":0.12},{"x":0.87,"y":0.03},{"x":0.88,"y":0.14},{"x":0.89,"y":0.04},{"x":0.9,"y":0.12},{"x":0.91,"y":0.05},{"x":0.92,"y":0.15},{"x":0.93,"y":0.05},{"x":0.94,"y":0.13},{"x":0.95,"y":0.06},{"x":0.96,"y":0.15},{"x":0.97,"y":0.08},{"x":0.98,"y":0.2},{"x":0.99,"y":0.284},{"x":0.997,"y":0.38},{"x":1.004,"y":0.3},{"x":1.01,"y":0.2},{"x":1.02,"y":0.26},{"x":1.03,"y":0.1},{"x":1.04,"y":0.14},{"x":1.05,"y":0.05},{"x":1.06,"y":0.1},{"x":1.07,"y":0.03},{"x":1.08,"y":0.08},{"x":1.09,"y":0.02},{"x":1.1,"y":0.07},{"x":1.11,"y":0.03},{"x":1.12,"y":0.06},{"x":1.13,"y":0.02},{"x":1.14,"y":0.05},{"x":1.15,"y":0.01},{"x":1.16,"y":0.06},{"x":1.17,"y":0.02},{"x":1.18,"y":0.04},{"x":1.19,"y":0.01},{"x":1.2,"y":0.05},{"x":1.21,"y":0.02},{"x":1.22,"y":0.06},{"x":1.23,"y":0.01},{"x":1.24,"y":0.05},{"x":1.25,"y":0.02},{"x":1.26,"y":0.04},{"x":1.27,"y":0.01},{"x":1.28,"y":0.06},{"x":1.29,"y":0.02},{"x":1.3,"y":0.05},{"x":1.31,"y":0.01},{"x":1.32,"y":0.07},{"x":1.33,"y":0.095},{"x":1.34,"y":0.02},{"x":1.35,"y":0.05},{"x":1.36,"y":0.01},{"x":1.37,"y":0.04},{"x":1.38,"y":0.02},{"x":1.39,"y":0.06},{"x":1.4,"y":0.02},{"x":1.41,"y":0.07},{"x":1.42,"y":0.1},{"x":1.43,"y":0.03},{"x":1.44,"y":0.05},{"x":1.45,"y":0.01},{"x":1.47,"y":0.04},{"x":1.49,"y":0.005},{"x":1.51,"y":0.03},{"x":1.53,"y":0.01},{"x":1.55,"y":0.035},{"x":1.57,"y":0.005},{"x":1.59,"y":0.04},{"x":1.61,"y":0.05},{"x":1.63,"y":0.086},{"x":1.65,"y":0.01},{"x":1.67,"y":0.03},{"x":1.7,"y":0.005},{"x":1.73,"y":0.025},{"x":1.76,"y":0.005},{"x":1.8,"y":0.02},{"x":1.84,"y":0.004},{"x":1.88,"y":0.015},{"x":1.92,"y":0.004},{"x":1.96,"y":0.02},{"x":2.0,"y":0.01},{"x":2.05,"y":0.02},{"x":2.1,"y":0.005},{"x":2.15,"y":0.02},{"x":2.2,"y":0.004},{"x":2.25,"y":0.015},{"x":2.3,"y":0.005},{"x":2.35,"y":0.02},{"x":2.4,"y":0.01},{"x":2.45,"y":0.03},{"x":2.5,"y":0.04},{"x":2.535,"y":0.01},{"x":2.57,"y":0.062},{"x":2.6,"y":0.01},{"x":2.63,"y":0.02},{"x":2.67,"y":0.005},{"x":2.71,"y":0.05},{"x":2.74,"y":0.01},{"x":2.78,"y":0.02},{"x":2.82,"y":0.005},{"x":2.86,"y":0.02},{"x":2.9,"y":0.003},{"x":2.95,"y":0.02},{"x":3.0,"y":0.003},{"x":3.05,"y":0.01},{"x":3.1,"y":0.02},{"x":3.14,"y":0.023},{"x":3.17,"y":0.015},{"x":3.2,"y":0.027},{"x":3.24,"y":0.012},{"x":3.27,"y":0.02},{"x":3.31,"y":0.047},{"x":3.35,"y":0.009},{"x":3.4,"y":0.002},{"x":3.45,"y":0.004},{"x":3.5,"y":0.01},{"x":3.55,"y":0.009},{"x":3.6,"y":0.003},{"x":3.65,"y":0.0},{"x":3.7,"y":0.008},{"x":3.75,"y":0.018},{"x":3.8,"y":0.0},{"x":3.85,"y":0.002},{"x":3.9,"y":0.01},{"x":3.957,"y":0.09},{"x":4.0,"y":0.059}],
"ev1":[{"x":0.5,"y":0.06},{"x":0.505,"y":0.156},{"x":0.51,"y":0.03},{"x":0.515,"y":0.11},{"x":0.52,"y":0.02},{"x":0.53,"y":0.142},{"x":0.537,"y":0.04},{"x":0.545,"y":0.1},{"x":0.55,"y":0.02},{"x":0.56,"y":0.13},{"x":0.568,"y":0.05},{"x":0.575,"y":0.12},{"x":0.582,"y":0.314},{"x":0.588,"y":0.06},{"x":0.595,"y":0.185},{"x":0.602,"y":0.03},{"x":0.61,"y":0.1},{"x":0.618,"y":0.02},{"x":0.625,"y":0.145},{"x":0.632,"y":0.03},{"x":0.64,"y":0.09},{"x":0.648,"y":0.02},{"x":0.655,"y":0.11},{"x":0.662,"y":0.03},{"x":0.67,"y":0.1},{"x":0.678,"y":0.02},{"x":0.685,"y":0.182},{"x":0.692,"y":0.05},{"x":0.7,"y":0.122},{"x":0.708,"y":0.02},{"x":0.715,"y":0.1},{"x":0.722,"y":0.03},{"x":0.73,"y":0.09},{"x":0.738,"y":0.02},{"x":0.745,"y":0.08},{"x":0.752,"y":0.03},{"x":0.76,"y":0.1},{"x":0.772,"y":0.262},{"x":0.78,"y":0.03},{"x":0.79,"y":0.122},{"x":0.8,"y":0.02},{"x":0.81,"y":0.08},{"x":0.82,"y":0.02},{"x":0.83,"y":0.087},{"x":0.84,"y":0.01},{"x":0.85,"y":0.06},{"x":0.86,"y":0.02},{"x":0.87,"y":0.156},{"x":0.88,"y":0.02},{"x":0.89,"y":0.06},{"x":0.9,"y":0.01},{"x":0.91,"y":0.08},{"x":0.92,"y":0.02},{"x":0.93,"y":0.1},{"x":0.94,"y":0.03},{"x":0.95,"y":0.12},{"x":0.96,"y":0.04},{"x":0.97,"y":0.1},{"x":0.98,"y":0.06},{"x":0.994,"y":0.258},{"x":1.006,"y":0.15},{"x":1.018,"y":0.249},{"x":1.025,"y":0.08},{"x":1.04,"y":0.18},{"x":1.05,"y":0.04},{"x":1.06,"y":0.08},{"x":1.07,"y":0.02},{"x":1.08,"y":0.05},{"x":1.09,"y":0.01},{"x":1.1,"y":0.06},{"x":1.11,"y":0.02},{"x":1.12,"y":0.081},{"x":1.13,"y":0.01},{"x":1.14,"y":0.05},{"x":1.15,"y":0.02},{"x":1.16,"y":0.04},{"x":1.17,"y":0.01},{"x":1.18,"y":0.05},{"x":1.19,"y":0.02},{"x":1.2,"y":0.04},{"x":1.21,"y":0.01},{"x":1.22,"y":0.05},{"x":1.23,"y":0.02},{"x":1.24,"y":0.04},{"x":1.25,"y":0.01},{"x":1.26,"y":0.05},{"x":1.27,"y":0.02},{"x":1.28,"y":0.069},{"x":1.29,"y":0.01},{"x":1.3,"y":0.04},{"x":1.31,"y":0.02},{"x":1.32,"y":0.05},{"x":1.33,"y":0.02},{"x":1.34,"y":0.06},{"x":1.35,"y":0.03},{"x":1.36,"y":0.07},{"x":1.37,"y":0.04},{"x":1.38,"y":0.09},{"x":1.39,"y":0.11},{"x":1.4,"y":0.05},{"x":1.414,"y":0.266},{"x":1.42,"y":0.1},{"x":1.434,"y":0.337},{"x":1.44,"y":0.15},{"x":1.447,"y":0.229},{"x":1.455,"y":0.05},{"x":1.462,"y":0.098},{"x":1.47,"y":0.02},{"x":1.48,"y":0.05},{"x":1.49,"y":0.01},{"x":1.5,"y":0.04},{"x":1.51,"y":0.02},{"x":1.52,"y":0.05},{"x":1.53,"y":0.01},{"x":1.54,"y":0.04},{"x":1.55,"y":0.02},{"x":1.56,"y":0.05},{"x":1.57,"y":0.01},{"x":1.585,"y":0.075},{"x":1.6,"y":0.02},{"x":1.61,"y":0.05},{"x":1.62,"y":0.01},{"x":1.635,"y":0.04},{"x":1.65,"y":0.01},{"x":1.67,"y":0.03},{"x":1.69,"y":0.093},{"x":1.705,"y":0.01},{"x":1.72,"y":0.03},{"x":1.74,"y":0.005},{"x":1.76,"y":0.02},{"x":1.78,"y":0.003},{"x":1.8,"y":0.03},{"x":1.82,"y":0.075},{"x":1.84,"y":0.005},{"x":1.86,"y":0.02},{"x":1.88,"y":0.003},{"x":1.9,"y":0.02},{"x":1.92,"y":0.005},{"x":1.95,"y":0.064},{"x":1.97,"y":0.01},{"x":2.0,"y":0.115},{"x":2.02,"y":0.01},{"x":2.04,"y":0.03},{"x":2.06,"y":0.069},{"x":2.08,"y":0.005},{"x":2.1,"y":0.03},{"x":2.12,"y":0.01},{"x":2.158,"y":0.098},{"x":2.18,"y":0.005},{"x":2.2,"y":0.02},{"x":2.22,"y":0.005},{"x":2.25,"y":0.043},{"x":2.28,"y":0.005},{"x":2.31,"y":0.072},{"x":2.33,"y":0.01},{"x":2.37,"y":0.109},{"x":2.39,"y":0.01},{"x":2.43,"y":0.134},{"x":2.45,"y":0.005},{"x":2.48,"y":0.02},{"x":2.5,"y":0.003},{"x":2.53,"y":0.052},{"x":2.55,"y":0.003},{"x":2.57,"y":0.02},{"x":2.6,"y":0.057},{"x":2.62,"y":0.005},{"x":2.66,"y":0.03},{"x":2.69,"y":0.003},{"x":2.73,"y":0.03},{"x":2.763,"y":0.098},{"x":2.8,"y":0.003},{"x":2.84,"y":0.03},{"x":2.87,"y":0.003},{"x":2.91,"y":0.071},{"x":2.95,"y":0.0},{"x":2.99,"y":0.02},{"x":3.04,"y":0.072},{"x":3.08,"y":0.026},{"x":3.105,"y":0.06},{"x":3.134,"y":0.182},{"x":3.16,"y":0.06},{"x":3.185,"y":0.023},{"x":3.22,"y":0.09},{"x":3.249,"y":0.28},{"x":3.275,"y":0.09},{"x":3.3,"y":0.029},{"x":3.33,"y":0.09},{"x":3.36,"y":0.288},{"x":3.39,"y":0.09},{"x":3.42,"y":0.026},{"x":3.496,"y":0.096},{"x":3.57,"y":0.003},{"x":3.65,"y":0.058},{"x":3.7,"y":0.017},{"x":3.77,"y":0.078},{"x":3.86,"y":0.009},{"x":3.94,"y":0.012},{"x":4.0,"y":0.023}],
"ev2":[{"x":0.5,"y":0.05},{"x":0.51,"y":0.12},{"x":0.52,"y":0.02},{"x":0.53,"y":0.1},{"x":0.54,"y":0.01},{"x":0.55,"y":0.09},{"x":0.56,"y":0.02},{"x":0.57,"y":0.11},{"x":0.58,"y":0.03},{"x":0.59,"y":0.08},{"x":0.6,"y":0.01},{"x":0.61,"y":0.09},{"x":0.62,"y":0.02},{"x":0.63,"y":0.07},{"x":0.64,"y":0.01},{"x":0.65,"y":0.08},{"x":0.66,"y":0.03},{"x":0.67,"y":0.1},{"x":0.68,"y":0.02},{"x":0.69,"y":0.08},{"x":0.7,"y":0.01},{"x":0.71,"y":0.07},{"x":0.72,"y":0.02},{"x":0.73,"y":0.09},{"x":0.74,"y":0.03},{"x":0.75,"y":0.1},{"x":0.76,"y":0.02},{"x":0.77,"y":0.08},{"x":0.78,"y":0.03},{"x":0.79,"y":0.09},{"x":0.8,"y":0.145},{"x":0.81,"y":0.03},{"x":0.82,"y":0.1},{"x":0.83,"y":0.02},{"x":0.84,"y":0.12},{"x":0.85,"y":0.03},{"x":0.86,"y":0.11},{"x":0.87,"y":0.156},{"x":0.88,"y":0.04},{"x":0.89,"y":0.12},{"x":0.9,"y":0.05},{"x":0.91,"y":0.13},{"x":0.92,"y":0.06},{"x":0.93,"y":0.15},{"x":0.94,"y":0.07},{"x":0.95,"y":0.17},{"x":0.96,"y":0.1},{"x":0.975,"y":0.347},{"x":0.985,"y":0.2},{"x":0.994,"y":0.5},{"x":1.003,"y":0.25},{"x":1.012,"y":0.249},{"x":1.02,"y":0.1},{"x":1.03,"y":0.15},{"x":1.04,"y":0.05},{"x":1.05,"y":0.1},{"x":1.06,"y":0.03},{"x":1.07,"y":0.08},{"x":1.08,"y":0.02},{"x":1.09,"y":0.07},{"x":1.1,"y":0.02},{"x":1.11,"y":0.06},{"x":1.12,"y":0.081},{"x":1.13,"y":0.02},{"x":1.14,"y":0.06},{"x":1.15,"y":0.081},{"x":1.16,"y":0.02},{"x":1.17,"y":0.05},{"x":1.18,"y":0.01},{"x":1.19,"y":0.04},{"x":1.2,"y":0.02},{"x":1.21,"y":0.06},{"x":1.22,"y":0.02},{"x":1.23,"y":0.05},{"x":1.24,"y":0.01},{"x":1.25,"y":0.04},{"x":1.26,"y":0.02},{"x":1.27,"y":0.05},{"x":1.28,"y":0.02},{"x":1.29,"y":0.04},{"x":1.3,"y":0.01},{"x":1.31,"y":0.05},{"x":1.32,"y":0.02},{"x":1.33,"y":0.04},{"x":1.34,"y":0.01},{"x":1.35,"y":0.05},{"x":1.36,"y":0.02},{"x":1.37,"y":0.04},{"x":1.38,"y":0.02},{"x":1.39,"y":0.05},{"x":1.4,"y":0.01},{"x":1.41,"y":0.04},{"x":1.42,"y":0.02},{"x":1.43,"y":0.05},{"x":1.44,"y":0.01},{"x":1.46,"y":0.04},{"x":1.48,"y":0.02},{"x":1.5,"y":0.05},{"x":1.52,"y":0.02},{"x":1.55,"y":0.06},{"x":1.58,"y":0.03},{"x":1.61,"y":0.081},{"x":1.64,"y":0.02},{"x":1.67,"y":0.04},{"x":1.7,"y":0.01},{"x":1.74,"y":0.03},{"x":1.78,"y":0.005},{"x":1.82,"y":0.02},{"x":1.86,"y":0.005},{"x":1.9,"y":0.02},{"x":1.94,"y":0.01},{"x":1.98,"y":0.03},{"x":2.02,"y":0.01},{"x":2.06,"y":0.02},{"x":2.1,"y":0.01},{"x":2.15,"y":0.03},{"x":2.2,"y":0.01},{"x":2.25,"y":0.04},{"x":2.3,"y":0.02},{"x":2.35,"y":0.035},{"x":2.4,"y":0.02},{"x":2.45,"y":0.03},{"x":2.5,"y":0.045},{"x":2.558,"y":0.055},{"x":2.6,"y":0.03},{"x":2.63,"y":0.046},{"x":2.67,"y":0.02},{"x":2.72,"y":0.01},{"x":2.78,"y":0.0},{"x":2.83,"y":0.003},{"x":2.87,"y":0.02},{"x":2.93,"y":0.03},{"x":2.98,"y":0.02},{"x":3.02,"y":0.03},{"x":3.06,"y":0.032},{"x":3.11,"y":0.02},{"x":3.16,"y":0.005},{"x":3.22,"y":0.015},{"x":3.28,"y":0.03},{"x":3.33,"y":0.04},{"x":3.38,"y":0.01},{"x":3.43,"y":0.0},{"x":3.5,"y":0.003},{"x":3.57,"y":0.003},{"x":3.64,"y":0.02},{"x":3.71,"y":0.035},{"x":3.76,"y":0.015},{"x":3.8,"y":0.005},{"x":3.85,"y":0.01},{"x":3.9,"y":0.03},{"x":3.965,"y":0.075},{"x":4.0,"y":0.064}],
"er1":[{"x":0.5,"y":0.05},{"x":0.505,"y":0.166},{"x":0.512,"y":0.02},{"x":0.52,"y":0.1},{"x":0.53,"y":0.03},{"x":0.545,"y":0.127},{"x":0.555,"y":0.02},{"x":0.565,"y":0.1},{"x":0.575,"y":0.03},{"x":0.585,"y":0.15},{"x":0.595,"y":0.384},{"x":0.602,"y":0.05},{"x":0.61,"y":0.12},{"x":0.62,"y":0.02},{"x":0.63,"y":0.085},{"x":0.64,"y":0.01},{"x":0.65,"y":0.07},{"x":0.66,"y":0.02},{"x":0.67,"y":0.09},{"x":0.68,"y":0.03},{"x":0.69,"y":0.131},{"x":0.7,"y":0.02},{"x":0.71,"y":0.08},{"x":0.72,"y":0.02},{"x":0.73,"y":0.06},{"x":0.74,"y":0.01},{"x":0.75,"y":0.07},{"x":0.76,"y":0.03},{"x":0.772,"y":0.269},{"x":0.78,"y":0.04},{"x":0.79,"y":0.092},{"x":0.8,"y":0.02},{"x":0.81,"y":0.06},{"x":0.82,"y":0.01},{"x":0.83,"y":0.05},{"x":0.84,"y":0.02},{"x":0.85,"y":0.06},{"x":0.86,"y":0.01},{"x":0.87,"y":0.05},{"x":0.88,"y":0.02},{"x":0.895,"y":0.08},{"x":0.91,"y":0.02},{"x":0.93,"y":0.149},{"x":0.94,"y":0.03},{"x":0.96,"y":0.152},{"x":0.97,"y":0.05},{"x":0.98,"y":0.12},{"x":0.994,"y":0.329},{"x":1.0,"y":0.12},{"x":1.012,"y":0.219},{"x":1.02,"y":0.05},{"x":1.03,"y":0.08},{"x":1.04,"y":0.02},{"x":1.05,"y":0.06},{"x":1.06,"y":0.01},{"x":1.07,"y":0.05},{"x":1.08,"y":0.02},{"x":1.09,"y":0.04},{"x":1.1,"y":0.01},{"x":1.11,"y":0.03},{"x":1.12,"y":0.01},{"x":1.13,"y":0.035},{"x":1.14,"y":0.005},{"x":1.15,"y":0.03},{"x":1.16,"y":0.01},{"x":1.17,"y":0.025},{"x":1.18,"y":0.005},{"x":1.19,"y":0.03},{"x":1.2,"y":0.01},{"x":1.21,"y":0.025},{"x":1.22,"y":0.005},{"x":1.23,"y":0.03},{"x":1.24,"y":0.01},{"x":1.26,"y":0.04},{"x":1.27,"y":0.01},{"x":1.28,"y":0.06},{"x":1.29,"y":0.02},{"x":1.3,"y":0.078},{"x":1.31,"y":0.03},{"x":1.33,"y":0.113},{"x":1.34,"y":0.03},{"x":1.355,"y":0.14},{"x":1.365,"y":0.04},{"x":1.38,"y":0.1},{"x":1.39,"y":0.03},{"x":1.4,"y":0.138},{"x":1.41,"y":0.05},{"x":1.418,"y":0.251},{"x":1.425,"y":0.12},{"x":1.438,"y":0.396},{"x":1.445,"y":0.15},{"x":1.45,"y":0.287},{"x":1.457,"y":0.05},{"x":1.465,"y":0.085},{"x":1.475,"y":0.01},{"x":1.49,"y":0.04},{"x":1.5,"y":0.005},{"x":1.52,"y":0.03},{"x":1.54,"y":0.005},{"x":1.56,"y":0.04},{"x":1.58,"y":0.01},{"x":1.6,"y":0.081},{"x":1.615,"y":0.01},{"x":1.63,"y":0.04},{"x":1.65,"y":0.005},{"x":1.67,"y":0.03},{"x":1.69,"y":0.005},{"x":1.71,"y":0.025},{"x":1.73,"y":0.005},{"x":1.75,"y":0.02},{"x":1.77,"y":0.003},{"x":1.79,"y":0.03},{"x":1.81,"y":0.005},{"x":1.83,"y":0.02},{"x":1.85,"y":0.003},{"x":1.87,"y":0.03},{"x":1.9,"y":0.081},{"x":1.92,"y":0.005},{"x":1.94,"y":0.02},{"x":1.96,"y":0.003},{"x":1.98,"y":0.03},{"x":2.0,"y":0.057},{"x":2.02,"y":0.005},{"x":2.04,"y":0.02},{"x":2.06,"y":0.003},{"x":2.09,"y":0.081},{"x":2.11,"y":0.01},{"x":2.13,"y":0.04},{"x":2.15,"y":0.005},{"x":2.183,"y":0.086},{"x":2.2,"y":0.005},{"x":2.23,"y":0.015},{"x":2.26,"y":0.003},{"x":2.29,"y":0.02},{"x":2.32,"y":0.003},{"x":2.35,"y":0.03},{"x":2.397,"y":0.058},{"x":2.42,"y":0.02},{"x":2.445,"y":0.053},{"x":2.47,"y":0.003},{"x":2.5,"y":0.02},{"x":2.53,"y":0.003},{"x":2.56,"y":0.035},{"x":2.59,"y":0.053},{"x":2.61,"y":0.01},{"x":2.635,"y":0.061},{"x":2.66,"y":0.02},{"x":2.68,"y":0.042},{"x":2.71,"y":0.01},{"x":2.74,"y":0.035},{"x":2.77,"y":0.005},{"x":2.8,"y":0.035},{"x":2.83,"y":0.003},{"x":2.86,"y":0.015},{"x":2.9,"y":0.0},{"x":2.95,"y":0.028},{"x":3.0,"y":0.005},{"x":3.03,"y":0.03},{"x":3.07,"y":0.01},{"x":3.105,"y":0.08},{"x":3.142,"y":0.227},{"x":3.19,"y":0.103},{"x":3.22,"y":0.2},{"x":3.249,"y":0.3},{"x":3.302,"y":0.078},{"x":3.33,"y":0.18},{"x":3.364,"y":0.287},{"x":3.442,"y":0.046},{"x":3.52,"y":0.11},{"x":3.6,"y":0.011},{"x":3.69,"y":0.062},{"x":3.763,"y":0.064},{"x":3.837,"y":0.08},{"x":3.928,"y":0.007},{"x":4.0,"y":0.042}],
"er2":[{"x":0.5,"y":0.04},{"x":0.51,"y":0.1},{"x":0.52,"y":0.02},{"x":0.53,"y":0.08},{"x":0.54,"y":0.01},{"x":0.55,"y":0.07},{"x":0.56,"y":0.02},{"x":0.57,"y":0.09},{"x":0.58,"y":0.03},{"x":0.59,"y":0.06},{"x":0.6,"y":0.01},{"x":0.61,"y":0.07},{"x":0.62,"y":0.02},{"x":0.63,"y":0.05},{"x":0.64,"y":0.01},{"x":0.65,"y":0.06},{"x":0.66,"y":0.02},{"x":0.67,"y":0.07},{"x":0.68,"y":0.01},{"x":0.69,"y":0.05},{"x":0.7,"y":0.02},{"x":0.71,"y":0.06},{"x":0.72,"y":0.01},{"x":0.73,"y":0.05},{"x":0.74,"y":0.02},{"x":0.75,"y":0.06},{"x":0.76,"y":0.01},{"x":0.77,"y":0.05},{"x":0.78,"y":0.02},{"x":0.79,"y":0.07},{"x":0.8,"y":0.02},{"x":0.81,"y":0.06},{"x":0.82,"y":0.01},{"x":0.83,"y":0.08},{"x":0.84,"y":0.02},{"x":0.85,"y":0.1},{"x":0.86,"y":0.03},{"x":0.87,"y":0.12},{"x":0.88,"y":0.04},{"x":0.89,"y":0.14},{"x":0.9,"y":0.05},{"x":0.91,"y":0.15},{"x":0.92,"y":0.06},{"x":0.93,"y":0.2},{"x":0.94,"y":0.08},{"x":0.95,"y":0.15},{"x":0.96,"y":0.1},{"x":0.975,"y":0.354},{"x":0.985,"y":0.3},{"x":0.998,"y":0.65},{"x":1.008,"y":0.3},{"x":1.018,"y":0.29},{"x":1.025,"y":0.1},{"x":1.035,"y":0.12},{"x":1.045,"y":0.04},{"x":1.055,"y":0.1},{"x":1.065,"y":0.03},{"x":1.075,"y":0.08},{"x":1.085,"y":0.02},{"x":1.095,"y":0.071},{"x":1.105,"y":0.02},{"x":1.115,"y":0.06},{"x":1.125,"y":0.01},{"x":1.135,"y":0.05},{"x":1.145,"y":0.02},{"x":1.155,"y":0.04},{"x":1.165,"y":0.01},{"x":1.175,"y":0.03},{"x":1.19,"y":0.01},{"x":1.2,"y":0.035},{"x":1.21,"y":0.005},{"x":1.22,"y":0.03},{"x":1.24,"y":0.01},{"x":1.26,"y":0.04},{"x":1.28,"y":0.01},{"x":1.3,"y":0.05},{"x":1.32,"y":0.02},{"x":1.34,"y":0.06},{"x":1.36,"y":0.02},{"x":1.38,"y":0.04},{"x":1.4,"y":0.01},{"x":1.42,"y":0.04},{"x":1.44,"y":0.01},{"x":1.46,"y":0.03},{"x":1.48,"y":0.005},{"x":1.5,"y":0.02},{"x":1.52,"y":0.005},{"x":1.54,"y":0.03},{"x":1.56,"y":0.01},{"x":1.58,"y":0.045},{"x":1.6,"y":0.05},{"x":1.62,"y":0.01},{"x":1.64,"y":0.03},{"x":1.66,"y":0.005},{"x":1.7,"y":0.02},{"x":1.75,"y":0.005},{"x":1.8,"y":0.015},{"x":1.85,"y":0.003},{"x":1.9,"y":0.02},{"x":1.95,"y":0.005},{"x":2.0,"y":0.03},{"x":2.05,"y":0.01},{"x":2.1,"y":0.045},{"x":2.15,"y":0.02},{"x":2.2,"y":0.035},{"x":2.25,"y":0.005},{"x":2.3,"y":0.015},{"x":2.35,"y":0.003},{"x":2.4,"y":0.02},{"x":2.45,"y":0.005},{"x":2.5,"y":0.01},{"x":2.55,"y":0.03},{"x":2.6,"y":0.05},{"x":2.63,"y":0.065},{"x":2.66,"y":0.03},{"x":2.7,"y":0.01},{"x":2.75,"y":0.02},{"x":2.8,"y":0.005},{"x":2.85,"y":0.01},{"x":2.9,"y":0.002},{"x":2.95,"y":0.005},{"x":3.0,"y":0.002},{"x":3.05,"y":0.01},{"x":3.1,"y":0.003},{"x":3.15,"y":0.003},{"x":3.2,"y":0.01},{"x":3.25,"y":0.01},{"x":3.3,"y":0.03},{"x":3.34,"y":0.037},{"x":3.38,"y":0.02},{"x":3.42,"y":0.005},{"x":3.5,"y":0.003},{"x":3.58,"y":0.003},{"x":3.65,"y":0.01},{"x":3.72,"y":0.015},{"x":3.78,"y":0.02},{"x":3.82,"y":0.027},{"x":3.86,"y":0.01},{"x":3.9,"y":0.002},{"x":3.95,"y":0.01},{"x":4.0,"y":0.035}],
"ez1":[{"x":0.5,"y":0.06},{"x":0.505,"y":0.237},{"x":0.512,"y":0.04},{"x":0.52,"y":0.149},{"x":0.528,"y":0.03},{"x":0.535,"y":0.14},{"x":0.545,"y":0.05},{"x":0.555,"y":0.13},{"x":0.565,"y":0.04},{"x":0.575,"y":0.15},{"x":0.585,"y":0.06},{"x":0.595,"y":0.409},{"x":0.602,"y":0.06},{"x":0.61,"y":0.12},{"x":0.62,"y":0.03},{"x":0.63,"y":0.1},{"x":0.64,"y":0.02},{"x":0.65,"y":0.08},{"x":0.66,"y":0.03},{"x":0.67,"y":0.1},{"x":0.68,"y":0.02},{"x":0.69,"y":0.117},{"x":0.7,"y":0.03},{"x":0.71,"y":0.08},{"x":0.72,"y":0.02},{"x":0.73,"y":0.06},{"x":0.74,"y":0.03},{"x":0.75,"y":0.07},{"x":0.76,"y":0.03},{"x":0.772,"y":0.267},{"x":0.78,"y":0.04},{"x":0.79,"y":0.092},{"x":0.8,"y":0.02},{"x":0.81,"y":0.07},{"x":0.82,"y":0.03},{"x":0.833,"y":0.151},{"x":0.84,"y":0.02},{"x":0.85,"y":0.05},{"x":0.86,"y":0.01},{"x":0.87,"y":0.06},{"x":0.88,"y":0.02},{"x":0.89,"y":0.08},{"x":0.9,"y":0.03},{"x":0.91,"y":0.1},{"x":0.92,"y":0.04},{"x":0.93,"y":0.12},{"x":0.94,"y":0.05},{"x":0.955,"y":0.142},{"x":0.965,"y":0.05},{"x":0.975,"y":0.1},{"x":0.985,"y":0.06},{"x":0.994,"y":0.347},{"x":1.002,"y":0.15},{"x":1.012,"y":0.262},{"x":1.02,"y":0.08},{"x":1.03,"y":0.113},{"x":1.04,"y":0.03},{"x":1.05,"y":0.07},{"x":1.06,"y":0.01},{"x":1.07,"y":0.05},{"x":1.08,"y":0.02},{"x":1.09,"y":0.06},{"x":1.1,"y":0.01},{"x":1.11,"y":0.05},{"x":1.12,"y":0.02},{"x":1.13,"y":0.078},{"x":1.14,"y":0.02},{"x":1.15,"y":0.04},{"x":1.16,"y":0.005},{"x":1.17,"y":0.03},{"x":1.18,"y":0.01},{"x":1.19,"y":0.04},{"x":1.2,"y":0.01},{"x":1.21,"y":0.05},{"x":1.22,"y":0.02},{"x":1.23,"y":0.04},{"x":1.24,"y":0.01},{"x":1.25,"y":0.05},{"x":1.26,"y":0.02},{"x":1.27,"y":0.04},{"x":1.28,"y":0.01},{"x":1.29,"y":0.05},{"x":1.3,"y":0.02},{"x":1.31,"y":0.06},{"x":1.32,"y":0.02},{"x":1.33,"y":0.05},{"x":1.34,"y":0.03},{"x":1.35,"y":0.07},{"x":1.36,"y":0.02},{"x":1.37,"y":0.06},{"x":1.38,"y":0.03},{"x":1.39,"y":0.07},{"x":1.4,"y":0.106},{"x":1.41,"y":0.05},{"x":1.418,"y":0.266},{"x":1.428,"y":0.1},{"x":1.438,"y":0.443},{"x":1.445,"y":0.2},{"x":1.452,"y":0.315},{"x":1.46,"y":0.06},{"x":1.468,"y":0.092},{"x":1.478,"y":0.02},{"x":1.49,"y":0.05},{"x":1.5,"y":0.01},{"x":1.52,"y":0.04},{"x":1.54,"y":0.01},{"x":1.56,"y":0.05},{"x":1.58,"y":0.02},{"x":1.6,"y":0.092},{"x":1.615,"y":0.01},{"x":1.63,"y":0.05},{"x":1.645,"y":0.005},{"x":1.66,"y":0.04},{"x":1.68,"y":0.071},{"x":1.7,"y":0.005},{"x":1.72,"y":0.03},{"x":1.74,"y":0.01},{"x":1.76,"y":0.02},{"x":1.78,"y":0.005},{"x":1.8,"y":0.02},{"x":1.82,"y":0.005},{"x":1.85,"y":0.03},{"x":1.88,"y":0.005},{"x":1.91,"y":0.058},{"x":1.94,"y":0.007},{"x":1.97,"y":0.03},{"x":2.006,"y":0.065},{"x":2.03,"y":0.01},{"x":2.06,"y":0.03},{"x":2.08,"y":0.045},{"x":2.1,"y":0.01},{"x":2.12,"y":0.03},{"x":2.15,"y":0.044},{"x":2.17,"y":0.005},{"x":2.2,"y":0.02},{"x":2.23,"y":0.046},{"x":2.25,"y":0.01},{"x":2.29,"y":0.04},{"x":2.33,"y":0.055},{"x":2.36,"y":0.02},{"x":2.4,"y":0.03},{"x":2.438,"y":0.096},{"x":2.47,"y":0.005},{"x":2.5,"y":0.03},{"x":2.54,"y":0.053},{"x":2.57,"y":0.02},{"x":2.6,"y":0.03},{"x":2.656,"y":0.065},{"x":2.69,"y":0.005},{"x":2.73,"y":0.046},{"x":2.77,"y":0.005},{"x":2.8,"y":0.02},{"x":2.85,"y":0.03},{"x":2.912,"y":0.065},{"x":2.97,"y":0.007},{"x":3.035,"y":0.069},{"x":3.09,"y":0.014},{"x":3.115,"y":0.08},{"x":3.142,"y":0.231},{"x":3.17,"y":0.08},{"x":3.2,"y":0.023},{"x":3.225,"y":0.12},{"x":3.249,"y":0.34},{"x":3.275,"y":0.12},{"x":3.305,"y":0.014},{"x":3.335,"y":0.11},{"x":3.36,"y":0.301},{"x":3.385,"y":0.11},{"x":3.43,"y":0.011},{"x":3.512,"y":0.101},{"x":3.58,"y":0.007},{"x":3.652,"y":0.057},{"x":3.7,"y":0.007},{"x":3.784,"y":0.081},{"x":3.86,"y":0.011},{"x":3.92,"y":0.014},{"x":4.0,"y":0.011}],
"ez2":[{"x":0.5,"y":0.05},{"x":0.51,"y":0.12},{"x":0.52,"y":0.03},{"x":0.53,"y":0.1},{"x":0.54,"y":0.02},{"x":0.55,"y":0.09},{"x":0.56,"y":0.03},{"x":0.57,"y":0.08},{"x":0.58,"y":0.02},{"x":0.59,"y":0.07},{"x":0.6,"y":0.01},{"x":0.61,"y":0.06},{"x":0.62,"y":0.02},{"x":0.63,"y":0.07},{"x":0.64,"y":0.01},{"x":0.65,"y":0.05},{"x":0.66,"y":0.02},{"x":0.67,"y":0.06},{"x":0.68,"y":0.01},{"x":0.69,"y":0.05},{"x":0.7,"y":0.02},{"x":0.71,"y":0.06},{"x":0.72,"y":0.01},{"x":0.73,"y":0.05},{"x":0.74,"y":0.02},{"x":0.75,"y":0.06},{"x":0.76,"y":0.01},{"x":0.77,"y":0.05},{"x":0.78,"y":0.02},{"x":0.79,"y":0.07},{"x":0.8,"y":0.02},{"x":0.81,"y":0.08},{"x":0.82,"y":0.03},{"x":0.83,"y":0.07},{"x":0.84,"y":0.02},{"x":0.85,"y":0.09},{"x":0.86,"y":0.03},{"x":0.87,"y":0.1},{"x":0.88,"y":0.03},{"x":0.89,"y":0.12},{"x":0.9,"y":0.04},{"x":0.91,"y":0.156},{"x":0.92,"y":0.05},{"x":0.93,"y":0.14},{"x":0.94,"y":0.06},{"x":0.95,"y":0.15},{"x":0.96,"y":0.08},{"x":0.975,"y":0.347},{"x":0.985,"y":0.25},{"x":0.994,"y":0.65},{"x":1.004,"y":0.3},{"x":1.015,"y":0.255},{"x":1.025,"y":0.08},{"x":1.035,"y":0.1},{"x":1.045,"y":0.03},{"x":1.055,"y":0.08},{"x":1.065,"y":0.02},{"x":1.075,"y":0.07},{"x":1.085,"y":0.02},{"x":1.1,"y":0.081},{"x":1.11,"y":0.02},{"x":1.12,"y":0.06},{"x":1.13,"y":0.01},{"x":1.14,"y":0.05},{"x":1.15,"y":0.02},{"x":1.16,"y":0.04},{"x":1.17,"y":0.01},{"x":1.18,"y":0.04},{"x":1.19,"y":0.02},{"x":1.2,"y":0.05},{"x":1.21,"y":0.01},{"x":1.22,"y":0.04},{"x":1.23,"y":0.02},{"x":1.24,"y":0.03},{"x":1.25,"y":0.01},{"x":1.27,"y":0.04},{"x":1.29,"y":0.01},{"x":1.31,"y":0.03},{"x":1.33,"y":0.01},{"x":1.35,"y":0.03},{"x":1.37,"y":0.01},{"x":1.39,"y":0.03},{"x":1.41,"y":0.01},{"x":1.43,"y":0.035},{"x":1.45,"y":0.01},{"x":1.48,"y":0.03},{"x":1.51,"y":0.01},{"x":1.55,"y":0.025},{"x":1.6,"y":0.005},{"x":1.65,"y":0.02},{"x":1.7,"y":0.01},{"x":1.75,"y":0.02},{"x":1.8,"y":0.005},{"x":1.85,"y":0.015},{"x":1.9,"y":0.005},{"x":1.95,"y":0.012},{"x":2.0,"y":0.005},{"x":2.05,"y":0.015},{"x":2.1,"y":0.005},{"x":2.15,"y":0.012},{"x":2.2,"y":0.005},{"x":2.25,"y":0.01},{"x":2.3,"y":0.005},{"x":2.35,"y":0.015},{"x":2.4,"y":0.01},{"x":2.45,"y":0.02},{"x":2.5,"y":0.025},{"x":2.55,"y":0.04},{"x":2.6,"y":0.05},{"x":2.65,"y":0.062},{"x":2.685,"y":0.064},{"x":2.72,"y":0.04},{"x":2.76,"y":0.02},{"x":2.8,"y":0.028},{"x":2.85,"y":0.01},{"x":2.9,"y":0.02},{"x":2.95,"y":0.005},{"x":3.0,"y":0.007},{"x":3.05,"y":0.01},{"x":3.1,"y":0.014},{"x":3.15,"y":0.025},{"x":3.19,"y":0.02},{"x":3.22,"y":0.028},{"x":3.27,"y":0.008},{"x":3.32,"y":0.007},{"x":3.4,"y":0.007},{"x":3.5,"y":0.007},{"x":3.6,"y":0.004},{"x":3.7,"y":0.01},{"x":3.8,"y":0.003},{"x":3.86,"y":0.014},{"x":3.92,"y":0.05},{"x":3.965,"y":0.074},{"x":4.0,"y":0.064}]
},
"spacing":6,
"hconcat":[
{"width":45,"height":552,"view":{"stroke":null},"data":{"values":[{"t":"Lomb-Scargle Power"}]},"mark":{"type":"text","angle":270,"fontSize":28,"dx":-12,"color":"#000","font":"DejaVu Sans"},"encoding":{"text":{"field":"t","type":"nominal"}}},
{"columns":4,"spacing":{"row":35,"column":50},"bounds":"flush","concat":[
{"width":284,"height":258,"layer":[
{"data":{"name":"tA1"},"mark":{"type":"line","color":"#4646ff","strokeWidth":1,"opacity":0.85,"interpolate":"monotone","clip":true},"encoding":{"x":{"field":"x","type":"quantitative","title":null,"scale":{"domain":[0.5,4],"nice":false,"zero":false},"axis":{"values":[1,2,3,4],"format":"d","labelFlush":false}},"y":{"field":"y","type":"quantitative","title":null,"scale":{"domain":[-0.048,1.018],"nice":false,"zero":false},"axis":{"values":[0,0.2,0.4,0.6,0.8,1.0],"format":".1f"}}}},
{"data":{"name":"tA2"},"mark":{"type":"line","color":"#4646ff","strokeWidth":1,"opacity":0.85,"strokeDash":[4,2],"interpolate":"monotone","clip":true},"encoding":{"x":{"field":"x","type":"quantitative","title":null},"y":{"field":"y","type":"quantitative","title":null}}},
{"data":{"name":"tB1"},"mark":{"type":"line","color":"#ff2020","strokeWidth":1,"opacity":0.9,"interpolate":"monotone","clip":true},"encoding":{"x":{"field":"x","type":"quantitative","title":null},"y":{"field":"y","type":"quantitative","title":null}}},
{"data":{"name":"tB2"},"mark":{"type":"line","color":"#ff2020","strokeWidth":1,"opacity":0.9,"strokeDash":[4,2],"interpolate":"monotone","clip":true},"encoding":{"x":{"field":"x","type":"quantitative","title":null},"y":{"field":"y","type":"quantitative","title":null}}},
{"data":{"name":"tC1"},"mark":{"type":"line","color":"#e69b12","strokeWidth":1.2,"opacity":0.95,"interpolate":"monotone","clip":true},"encoding":{"x":{"field":"x","type":"quantitative","title":null},"y":{"field":"y","type":"quantitative","title":null}}},
{"data":{"name":"tC2"},"mark":{"type":"line","color":"#e69b12","strokeWidth":1,"opacity":0.9,"strokeDash":[4,2],"interpolate":"monotone","clip":true},"encoding":{"x":{"field":"x","type":"quantitative","title":null},"y":{"field":"y","type":"quantitative","title":null}}},
{"data":{"values":[{"P":1.43}]},"mark":{"type":"rule","color":"#222","strokeWidth":1},"encoding":{"x":{"field":"P","type":"quantitative","title":null}}},
{"data":{"values":[{"label":"TESS"}]},"mark":{"type":"text","align":"right","baseline":"middle","fontSize":16,"color":"#000"},"encoding":{"x":{"datum":3.82},"y":{"datum":0.931},"text":{"field":"label","type":"nominal"}}}
]},
{"width":284,"height":258,"layer":[
{"data":{"name":"ch1"},"mark":{"type":"line","color":"#222","strokeWidth":1,"opacity":0.9,"interpolate":"monotone","clip":true},"encoding":{"x":{"field":"x","type":"quantitative","title":null,"scale":{"domain":[0.5,4],"nice":false,"zero":false},"axis":{"values":[1,2,3,4],"format":"d","labelFlush":false}},"y":{"field":"y","type":"quantitative","title":null,"scale":{"domain":[-0.034,0.709],"nice":false,"zero":false},"axis":{"values":[0,0.2,0.4,0.6],"format":".1f"}}}},
{"data":{"name":"ch2"},"mark":{"type":"line","color":"#444","strokeWidth":1,"opacity":0.9,"strokeDash":[4,2],"interpolate":"monotone","clip":true},"encoding":{"x":{"field":"x","type":"quantitative","title":null},"y":{"field":"y","type":"quantitative","title":null}}},
{"data":{"values":[{"P":1.43}]},"mark":{"type":"rule","color":"#222","strokeWidth":1},"encoding":{"x":{"field":"P","type":"quantitative","title":null}}},
{"data":{"values":[{"label":"CHEOPS"}]},"mark":{"type":"text","align":"right","baseline":"middle","fontSize":16,"color":"#000"},"encoding":{"x":{"datum":3.82},"y":{"datum":0.649},"text":{"field":"label","type":"nominal"}}}
]},
{"width":284,"height":258,"layer":[
{"data":{"name":"n11"},"mark":{"type":"line","color":"#8f8f8f","strokeWidth":1,"opacity":0.9,"interpolate":"monotone","clip":true},"encoding":{"x":{"field":"x","type":"quantitative","title":null,"scale":{"domain":[0.5,4],"nice":false,"zero":false},"axis":{"values":[1,2,3,4],"format":"d","labelFlush":false}},"y":{"field":"y","type":"quantitative","title":null,"scale":{"domain":[-0.046,0.992],"nice":false,"zero":false},"axis":{"values":[0,0.2,0.4,0.6,0.8],"format":".1f"}}}},
{"data":{"name":"n12"},"mark":{"type":"line","color":"#8f8f8f","strokeWidth":1,"opacity":0.9,"strokeDash":[4,2],"interpolate":"monotone","clip":true},"encoding":{"x":{"field":"x","type":"quantitative","title":null},"y":{"field":"y","type":"quantitative","title":null}}},
{"data":{"values":[{"P":1.43}]},"mark":{"type":"rule","color":"#222","strokeWidth":1},"encoding":{"x":{"field":"P","type":"quantitative","title":null}}},
{"data":{"values":[{"label":"NGTS Campaign 1"}]},"mark":{"type":"text","align":"right","baseline":"middle","fontSize":16,"color":"#000"},"encoding":{"x":{"datum":3.82},"y":{"datum":0.9075},"text":{"field":"label","type":"nominal"}}}
]},
{"width":284,"height":258,"layer":[
{"data":{"name":"n21"},"mark":{"type":"line","color":"#8f8f8f","strokeWidth":1,"opacity":0.9,"interpolate":"monotone","clip":true},"encoding":{"x":{"field":"x","type":"quantitative","title":null,"scale":{"domain":[0.5,4],"nice":false,"zero":false},"axis":{"values":[1,2,3,4],"format":"d","labelFlush":false}},"y":{"field":"y","type":"quantitative","title":null,"scale":{"domain":[-0.048,1.04],"nice":false,"zero":false},"axis":{"values":[0,0.2,0.4,0.6,0.8,1.0],"format":".1f"}}}},
{"data":{"name":"n22"},"mark":{"type":"line","color":"#8f8f8f","strokeWidth":1,"opacity":0.9,"strokeDash":[4,2],"interpolate":"monotone","clip":true},"encoding":{"x":{"field":"x","type":"quantitative","title":null},"y":{"field":"y","type":"quantitative","title":null}}},
{"data":{"values":[{"P":1.43}]},"mark":{"type":"rule","color":"#222","strokeWidth":1},"encoding":{"x":{"field":"P","type":"quantitative","title":null}}},
{"data":{"values":[{"label":"NGTS Campaign 2"}]},"mark":{"type":"text","align":"right","baseline":"middle","fontSize":16,"color":"#000"},"encoding":{"x":{"datum":3.82},"y":{"datum":0.951},"text":{"field":"label","type":"nominal"}}}
]},
{"width":284,"height":258,"layer":[
{"data":{"name":"eb1"},"mark":{"type":"line","color":"#e1e01c","strokeWidth":1,"opacity":0.9,"interpolate":"monotone","clip":true},"encoding":{"x":{"field":"x","type":"quantitative","title":null,"scale":{"domain":[0.5,4],"nice":false,"zero":false},"axis":{"values":[1,2,3,4],"format":"d","labelFlush":false}},"y":{"field":"y","type":"quantitative","title":null,"scale":{"domain":[0,0.35],"nice":false,"zero":false},"axis":{"values":[0,0.05,0.1,0.15,0.2,0.25,0.3,0.35],"format":".2f","labelOverlap":false,"tickCount":12}}}},
{"data":{"name":"eb2"},"mark":{"type":"line","color":"#e1e01c","strokeWidth":1,"opacity":0.9,"strokeDash":[4,2],"interpolate":"monotone","clip":true},"encoding":{"x":{"field":"x","type":"quantitative","title":null},"y":{"field":"y","type":"quantitative","title":null}}},
{"data":{"values":[{"P":1.43}]},"mark":{"type":"rule","color":"#222","strokeWidth":1},"encoding":{"x":{"field":"P","type":"quantitative","title":null}}},
{"data":{"values":[{"label":"Euler B"}]},"mark":{"type":"text","align":"right","baseline":"middle","fontSize":16,"color":"#000"},"encoding":{"x":{"datum":3.82},"y":{"datum":0.321},"text":{"field":"label","type":"nominal"}}}
]},
{"width":284,"height":258,"layer":[
{"data":{"name":"ev1"},"mark":{"type":"line","color":"#b5683a","strokeWidth":1,"opacity":0.85,"interpolate":"monotone","clip":true},"encoding":{"x":{"field":"x","type":"quantitative","title":null,"scale":{"domain":[0.5,4],"nice":false,"zero":false},"axis":{"values":[1,2,3,4],"format":"d","labelFlush":false}},"y":{"field":"y","type":"quantitative","title":null,"scale":{"domain":[0,0.45],"nice":false,"zero":false},"axis":{"values":[0,0.1,0.2,0.3,0.4],"format":".1f"}}}},
{"data":{"name":"ev2"},"mark":{"type":"line","color":"#b5683a","strokeWidth":1,"opacity":0.9,"strokeDash":[4,2],"interpolate":"monotone","clip":true},"encoding":{"x":{"field":"x","type":"quantitative","title":null},"y":{"field":"y","type":"quantitative","title":null}}},
{"data":{"values":[{"P":1.43}]},"mark":{"type":"rule","color":"#222","strokeWidth":1},"encoding":{"x":{"field":"P","type":"quantitative","title":null}}},
{"data":{"values":[{"label":"Euler V"}]},"mark":{"type":"text","align":"right","baseline":"middle","fontSize":16,"color":"#000"},"encoding":{"x":{"datum":3.82},"y":{"datum":0.413},"text":{"field":"label","type":"nominal"}}}
]},
{"width":284,"height":258,"layer":[
{"data":{"name":"er1"},"mark":{"type":"line","color":"#e62e2e","strokeWidth":1,"opacity":0.85,"interpolate":"monotone","clip":true},"encoding":{"x":{"field":"x","type":"quantitative","title":null,"scale":{"domain":[0.5,4],"nice":false,"zero":false},"axis":{"values":[1,2,3,4],"format":"d","labelFlush":false}},"y":{"field":"y","type":"quantitative","title":null,"scale":{"domain":[0,0.55],"nice":false,"zero":false},"axis":{"values":[0,0.1,0.2,0.3,0.4,0.5],"format":".1f"}}}},
{"data":{"name":"er2"},"mark":{"type":"line","color":"#e62e2e","strokeWidth":1,"opacity":0.9,"strokeDash":[4,2],"interpolate":"monotone","clip":true},"encoding":{"x":{"field":"x","type":"quantitative","title":null},"y":{"field":"y","type":"quantitative","title":null}}},
{"data":{"values":[{"P":1.43}]},"mark":{"type":"rule","color":"#222","strokeWidth":1},"encoding":{"x":{"field":"P","type":"quantitative","title":null}}},
{"data":{"values":[{"label":"Euler R"}]},"mark":{"type":"text","align":"right","baseline":"middle","fontSize":16,"color":"#000"},"encoding":{"x":{"datum":3.82},"y":{"datum":0.505},"text":{"field":"label","type":"nominal"}}}
]},
{"width":284,"height":258,"layer":[
{"data":{"name":"ez1"},"mark":{"type":"line","color":"#a25bb3","strokeWidth":1,"opacity":0.85,"interpolate":"monotone","clip":true},"encoding":{"x":{"field":"x","type":"quantitative","title":null,"scale":{"domain":[0.5,4],"nice":false,"zero":false},"axis":{"values":[1,2,3,4],"format":"d","labelFlush":false}},"y":{"field":"y","type":"quantitative","title":null,"scale":{"domain":[0,0.55],"nice":false,"zero":false},"axis":{"values":[0,0.1,0.2,0.3,0.4,0.5],"format":".1f"}}}},
{"data":{"name":"ez2"},"mark":{"type":"line","color":"#a25bb3","strokeWidth":1,"opacity":0.9,"strokeDash":[4,2],"interpolate":"monotone","clip":true},"encoding":{"x":{"field":"x","type":"quantitative","title":null},"y":{"field":"y","type":"quantitative","title":null}}},
{"data":{"values":[{"P":1.43}]},"mark":{"type":"rule","color":"#222","strokeWidth":1},"encoding":{"x":{"field":"P","type":"quantitative","title":null}}},
{"data":{"values":[{"label":"Euler Z"}]},"mark":{"type":"text","align":"right","baseline":"middle","fontSize":16,"color":"#000"},"encoding":{"x":{"datum":3.82},"y":{"datum":0.505},"text":{"field":"label","type":"nominal"}}}
]}
]}
]
}
